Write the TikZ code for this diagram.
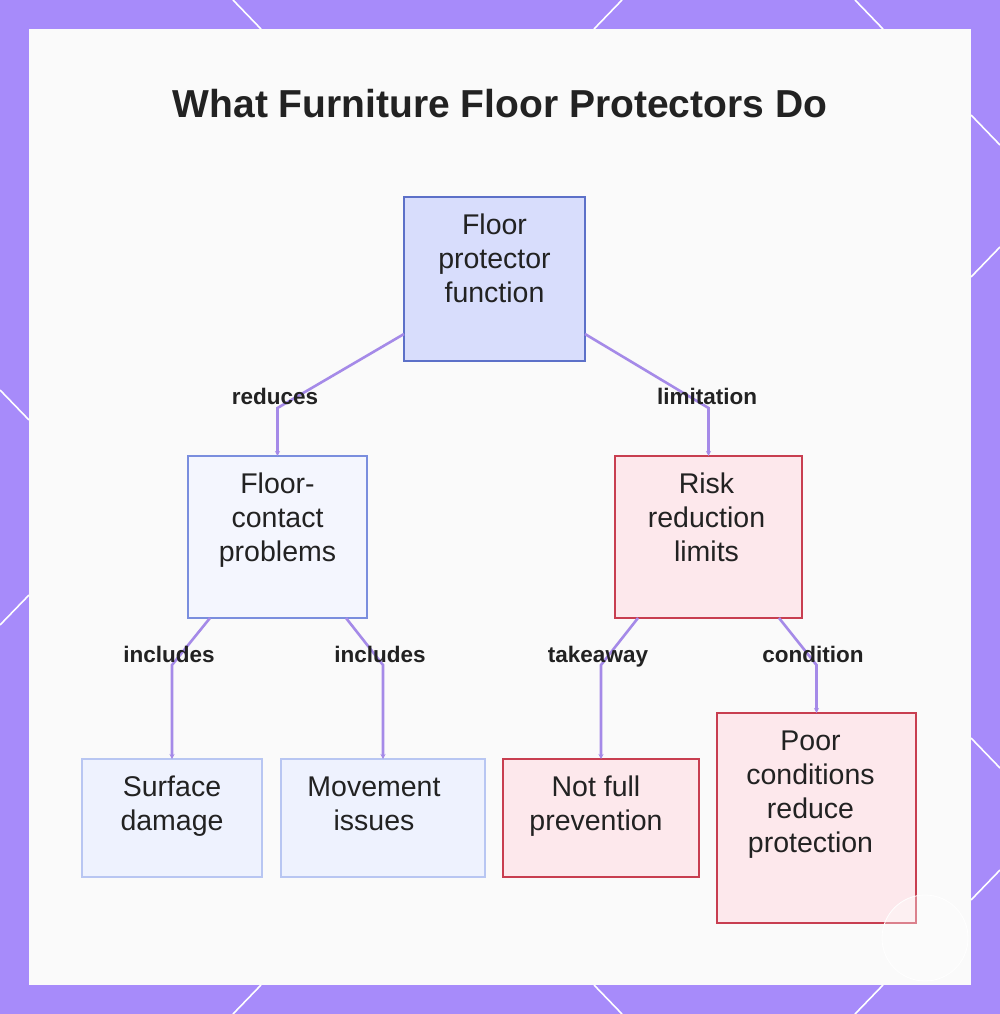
\documentclass[tikz,border=0pt]{standalone}
\usepackage{fontspec}
\setmainfont{Liberation Sans}
\usetikzlibrary{arrows.meta,calc}
\definecolor{bgpurple}{RGB}{167,139,250}
\definecolor{panelc}{RGB}{250,250,250}
\definecolor{edgec}{RGB}{165,138,232}
\definecolor{txt}{RGB}{34,34,34}
\definecolor{rootfill}{RGB}{216,221,252}
\definecolor{rootdraw}{RGB}{92,112,200}
\definecolor{midfill}{RGB}{244,246,254}
\definecolor{middraw}{RGB}{122,142,222}
\definecolor{lowfill}{RGB}{238,242,254}
\definecolor{lowdraw}{RGB}{184,198,242}
\definecolor{redfill}{RGB}{253,232,236}
\definecolor{reddraw}{RGB}{200,62,80}
% #1 width, #2 height, #3 left shift of text (pt, twice the shift), #4 text
\newcommand{\boxtext}[4]{\parbox[c][#2pt][t]{#1pt}{\centering\rightskip=#3pt plus 1fil\fontsize{28.5}{34}\selectfont\rule{0pt}{37pt}#4}}
\tikzset{
  basebox/.style={rectangle, inner sep=0pt, outer sep=0pt, line width=2pt, text=txt, anchor=north west},
  rootbox/.style={basebox, draw=rootdraw, fill=rootfill},
  midbox/.style={basebox, draw=middraw, fill=midfill},
  lowbox/.style={basebox, draw=lowdraw, fill=lowfill},
  redbox/.style={basebox, draw=reddraw, fill=redfill},
  edge/.style={draw=edgec, line width=2.6pt, -{Stealth[length=5pt,width=5pt]}},
  lbl/.style={text=txt, font=\fontsize{22.5}{26}\selectfont\bfseries, inner sep=0pt, anchor=base},
  deco/.style={draw=white, line width=1.6pt}
}
\begin{document}
\begin{tikzpicture}[x=1pt,y=-1pt]
\useasboundingbox (0,0) rectangle (1000,1014);
\fill[bgpurple] (0,0) rectangle (1000,1014);
% decorative white lines on the frame
\draw[deco] (233,0) -- (261,29);
\draw[deco] (622,0) -- (594,29);
\draw[deco] (855,0) -- (883,29);
\draw[deco] (261,985) -- (233,1014);
\draw[deco] (594,985) -- (622,1014);
\draw[deco] (883,985) -- (855,1014);
\draw[deco] (0,390) -- (29,420);
\draw[deco] (29,595) -- (0,625);
\draw[deco] (971,115) -- (1000,145);
\draw[deco] (971,277) -- (1000,247);
\draw[deco] (971,738) -- (1000,768);
\draw[deco] (971,900) -- (1000,870);
% panel
\fill[panelc] (29,29) rectangle (971,985);
% title
\node[text=txt, font=\fontsize{39}{44}\selectfont\bfseries, inner sep=0pt] (title) at (500,104) {What Furniture Floor Protectors Do};
% boxes
\node[rootbox] (root) at (404,197) {\boxtext{181}{164}{0}{Floor\\protector\\function}};
\node[midbox] (fcp) at (188,456) {\boxtext{179}{162}{0}{Floor-\\contact\\problems}};
\node[redbox] (rrl) at (615,456) {\boxtext{187}{162}{4}{Risk\\reduction\\limits}};
\node[lowbox] (sd) at (82,759) {\boxtext{180}{118}{0}{Surface\\damage}};
\node[lowbox] (mi) at (281,759) {\boxtext{204}{118}{18}{Movement\\issues}};
\node[redbox] (nfp) at (503,759) {\boxtext{196}{118}{10}{Not full\\prevention}};
\node[redbox] (pc) at (717,713) {\boxtext{199}{210}{12}{Poor\\conditions\\reduce\\protection}};
% connectors
\draw[edge] ([yshift=27pt]root.south west) -- (fcp.north |- 0,408) -- (fcp.north);
\draw[edge] ([yshift=27pt]root.south east) -- (rrl.north |- 0,408) -- (rrl.north);
\draw[edge] ([xshift=22pt]fcp.south west) -- (sd.north |- 0,665) -- (sd.north);
\draw[edge] ([xshift=-21pt]fcp.south east) -- (mi.north |- 0,665) -- (mi.north);
\draw[edge] ([xshift=23pt]rrl.south west) -- (nfp.north |- 0,665) -- (nfp.north);
\draw[edge] ([xshift=-23pt]rrl.south east) -- (pc.north |- 0,665) -- (pc.north);
% labels
\node[lbl] (l1) at (275,404) {reduces};
\node[lbl] (l2) at (707,404) {limitation};
\node[lbl] (l3) at (169,662) {includes};
\node[lbl] (l4) at (380,662) {includes};
\node[lbl] (l5) at (598,662) {takeaway};
\node[lbl] (l6) at (813,662) {condition};
% faint watermark circle
\draw[white, line width=0.8pt, fill=white, fill opacity=0.35] (925,938) circle[radius=43];
\end{tikzpicture}
\end{document}
